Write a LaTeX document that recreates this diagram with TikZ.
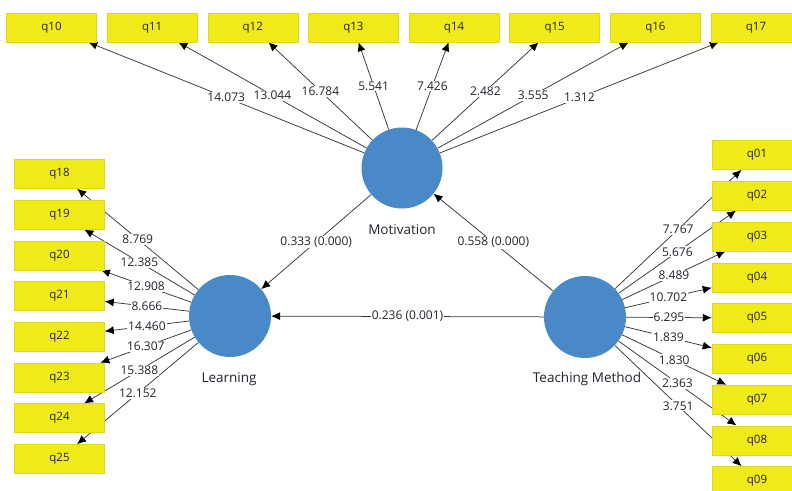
\documentclass[tikz,border=0pt]{standalone}
\usepackage{fontspec}
\setmainfont{Open Sans}
\usetikzlibrary{arrows.meta}
\pgfdeclarelayer{edges}
\pgfdeclarelayer{labels}
\pgfsetlayers{edges,labels,main}
\definecolor{ybox}{RGB}{240,234,24}
\definecolor{yedge}{RGB}{224,216,22}
\definecolor{lv}{RGB}{74,137,200}
\definecolor{ln}{RGB}{55,55,55}
\definecolor{tx}{RGB}{35,35,45}
\begin{document}
\begin{tikzpicture}[x=1pt,y=-1pt, font=\fontsize{12}{14}\selectfont,
  box/.style={fill=ybox, draw=yedge, line width=0.5pt, minimum width=90pt, minimum height=29pt, inner sep=0pt, text=tx, font=\fontsize{11.5}{13}\selectfont},
  lvar/.style={circle, fill=lv, minimum size=81pt, inner sep=0pt},
  arr/.style={draw=ln, line width=0.75pt, -{Latex[length=9pt,width=8pt,color=black]}},
  lbl/.style={fill=white, inner sep=1pt, text=tx},
  lvcaption/.style={text=tx, font=\fontsize{13.5}{15}\selectfont}]
\useasboundingbox (0,0) rectangle (792,490);
% latent variables
\node[lvar] (mot) at (402,168) {};
\node[lvar, minimum size=82pt] (learn) at (230,316) {};
\node[lvar, minimum size=82pt] (teach) at (585,317) {};
\node[lvcaption] (motl) at (402,230) {Motivation};
\node[lvcaption] (learnl) at (229,379) {Learning};
\node[lvcaption] (teachl) at (587,379) {Teaching Method};
% indicators
\foreach \n [count=\i from 0] in {10,11,12,13,14,15,16,17}
  \node[box] (q\n) at ({51.5+100.64*\i},27.5) {q\n};
\foreach \n [count=\i from 0] in {18,19,20,21,22,23,24,25}
  \node[box] (q\n) at (59.5,{174+40.7*\i}) {q\n};
\foreach \n [count=\i from 0] in {01,02,03,04,05,06,07,08,09}
  \node[box] (q\n) at (757,{155+40.75*\i}) {q\n};
% outer loadings
\foreach \f/\n/\v in {mot/10/14.073, mot/11/13.044, mot/12/16.784, mot/13/5.541,
  mot/14/7.426, mot/15/2.482, mot/16/3.555, mot/17/1.312,
  learn/18/8.769, learn/19/12.385, learn/20/12.908, learn/21/8.666,
  learn/22/14.460, learn/23/16.307, learn/24/15.388, learn/25/12.152,
  teach/01/7.767, teach/02/5.676, teach/03/8.489, teach/04/10.702, teach/05/6.295,
  teach/06/1.839, teach/07/1.830, teach/08/2.363, teach/09/3.751}{
  \begin{pgfonlayer}{edges}
    \draw[arr] (\f) -- coordinate[midway] (c\n) (q\n);
  \end{pgfonlayer}
  \begin{pgfonlayer}{labels}
    \node[lbl] (l\n) at (c\n) {\v};
  \end{pgfonlayer}
}
% structural paths
\draw[arr] (mot) -- node[lbl] (p1) {0.333 (0.000)} (learn);
\draw[arr] (teach) -- node[lbl] (p2) {0.558 (0.000)} (mot);
\draw[arr] (teach) -- node[lbl] (p3) {0.236 (0.001)} (learn);
\end{tikzpicture}
\end{document}
